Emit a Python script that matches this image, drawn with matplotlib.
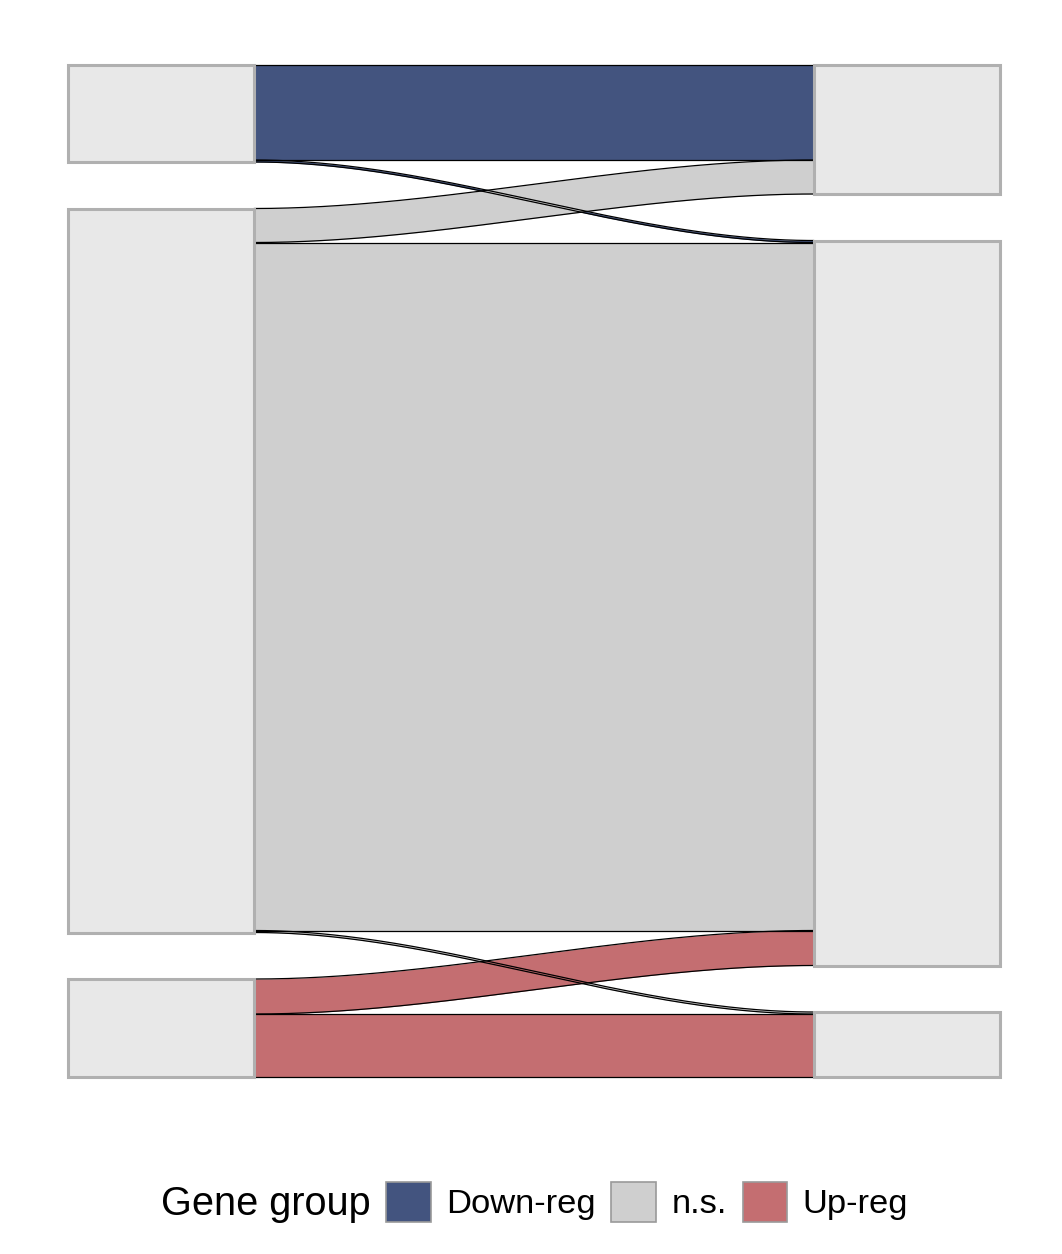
import matplotlib.pyplot as plt
import matplotlib.patches as mpatches
import numpy as np

plt.rcParams['font.family'] = ['Liberation Sans', 'DejaVu Sans']

# grupos y flujos (eje 1 -> eje 2)
groups = ['Down-reg', 'n.s.', 'Up-reg']
flow_from = ['Down-reg', 'Down-reg', 'n.s.', 'n.s.', 'n.s.', 'Up-reg', 'Up-reg']
flow_to = ['Down-reg', 'n.s.', 'Down-reg', 'n.s.', 'Up-reg', 'n.s.', 'Up-reg']
flow_n = [95, 2, 34, 688, 2, 35, 63]

colors = {'Down-reg': '#43547F', 'n.s.': '#CFCFCF', 'Up-reg': '#C46E71'}
gap = 46.5
width = 0.25
x1, x2 = 1, 2

fig = plt.figure(figsize=(10.62, 12.54), dpi=100)
ax = fig.add_axes([68 / 1062, 177 / 1254, 932 / 1062, 1012 / 1254])


def stratum_tops(side):
    tops = {}
    y = 0
    for g in groups:
        tot = sum(n for f, t, n in zip(flow_from, flow_to, flow_n) if (f if side == 0 else t) == g)
        tops[g] = (y, y + tot)
        y += tot + gap
    return tops


left = stratum_tops(0)
right = stratum_tops(1)

# posiciones de cada flujo dentro de su estrato
order = sorted(range(len(flow_n)), key=lambda i: (groups.index(flow_from[i]), groups.index(flow_to[i])))
lpos = {g: left[g][0] for g in groups}
lspan = {}
for i in order:
    g = flow_from[i]
    lspan[i] = (lpos[g], lpos[g] + flow_n[i])
    lpos[g] += flow_n[i]
order_r = sorted(range(len(flow_n)), key=lambda i: (groups.index(flow_to[i]), groups.index(flow_from[i])))
rpos = {g: right[g][0] for g in groups}
rspan = {}
for i in order_r:
    g = flow_to[i]
    rspan[i] = (rpos[g], rpos[g] + flow_n[i])
    rpos[g] += flow_n[i]

xa = x1 + width / 2
xb = x2 - width / 2
t = np.linspace(0, 1, 200)
s = 3 * t ** 2 - 2 * t ** 3
xs = xa + (xb - xa) * t

for i in range(len(flow_n)):
    top = lspan[i][0] + (rspan[i][0] - lspan[i][0]) * s
    bot = lspan[i][1] + (rspan[i][1] - lspan[i][1]) * s
    ax.fill_between(xs, top, bot, color=colors[flow_from[i]], lw=0, zorder=1)
    ax.plot(xs, top, color='black', lw=0.9, zorder=2, clip_on=False)
    ax.plot(xs, bot, color='black', lw=0.9, zorder=2, clip_on=False)

# estratos
for x, tops in [(x1, left), (x2, right)]:
    for g in groups:
        y0, y1 = tops[g]
        ax.add_patch(mpatches.Rectangle((x - width / 2, y0), width, y1 - y0, clip_on=False,
                                        facecolor='#E8E8E8', edgecolor='#B0B0B0', lw=2.2, zorder=3))

ax.set_xlim(x1 - width / 2, x2 + width / 2)
ax.set_ylim(1012, 0)
ax.axis('off')

# leyenda
handles = [mpatches.Patch(facecolor=colors[g], edgecolor='#9A9A9A', lw=1.2, label=g) for g in groups]
fig.text(161 / 1062, 1 - 1204 / 1254, 'Gene group', fontsize=28.6, va='center', ha='left')
fig.legend(handles=handles, loc='center left', bbox_to_anchor=(386 / 1062, 1 - 1202 / 1254),
           ncol=3, frameon=False, fontsize=24.8, handlelength=1.3, handleheight=1.45,
           handletextpad=0.45, columnspacing=0.45, borderpad=0, borderaxespad=0)

fig.savefig('out.png', dpi=100)
